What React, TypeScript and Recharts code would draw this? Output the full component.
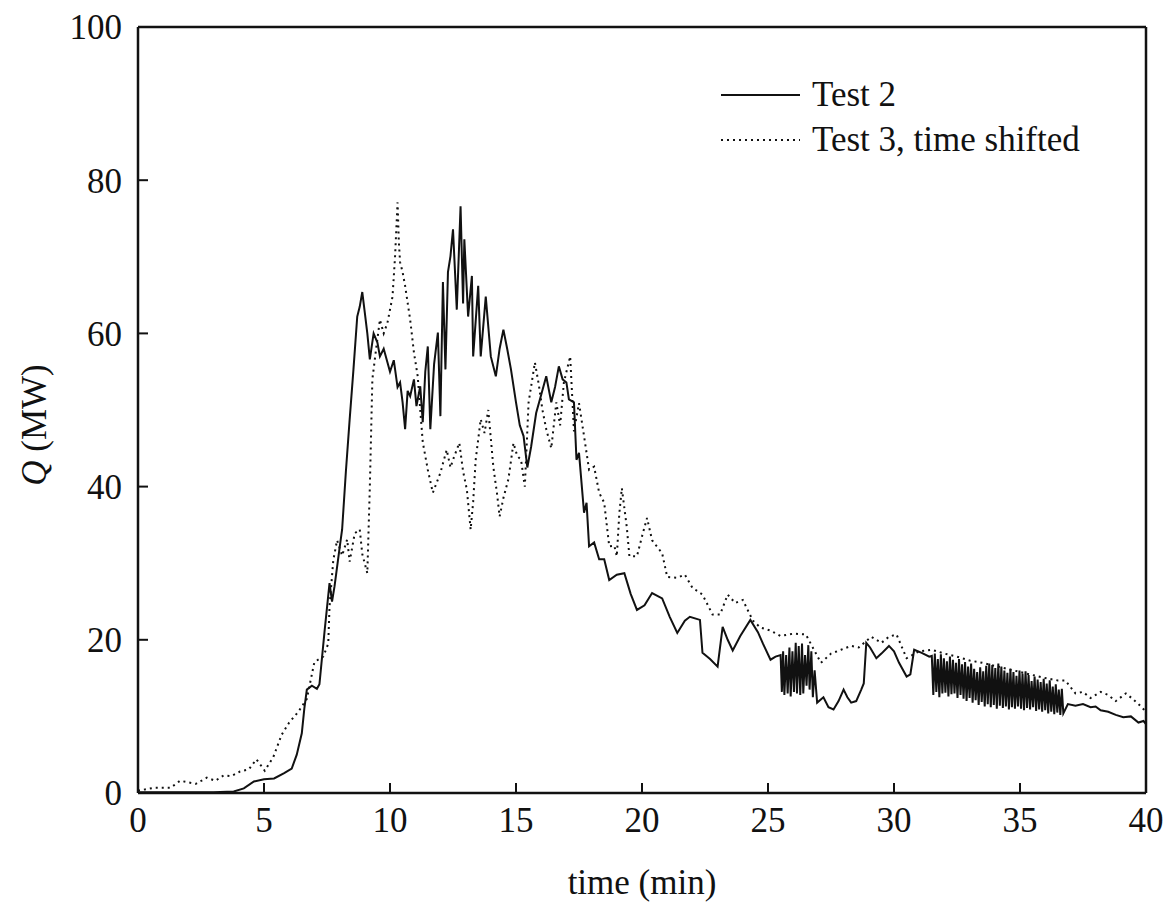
import React from "react";
import { LineChart, Line, XAxis, YAxis, ReferenceLine } from "recharts";

// heat release rate, Q in MW vs time in min
const TEST2: [number, number][] = [
  [0, 0.1], [1, 0.1], [2, 0.1], [3, 0.1], [3.8, 0.2], [4.2, 0.6], [4.6, 1.5], [5, 1.8], [5.4, 1.9],
  [5.8, 2.6], [6.1, 3.2], [6.3, 5], [6.5, 7.8], [6.6, 11], [6.7, 13.5], [6.9, 14], [7.1, 13.6],
  [7.2, 14.2], [7.4, 21], [7.6, 27.4], [7.7, 25], [7.8, 27], [8.0, 32], [8.1, 34.4], [8.25, 42],
  [8.4, 48.8], [8.55, 55.3], [8.7, 62.2], [8.8, 63.5], [8.9, 65.4], [9.0, 62.7], [9.1, 60],
  [9.2, 56.6], [9.35, 60], [9.5, 58.8], [9.6, 57], [9.75, 58], [9.9, 56.2], [10.0, 55],
  [10.15, 56.5], [10.3, 53], [10.4, 53.6], [10.5, 51], [10.6, 47.5], [10.7, 52.5], [10.8, 51.8],
  [10.95, 54], [11.05, 50.5], [11.2, 53.1], [11.3, 48.4], [11.4, 55], [11.5, 58.3], [11.6, 47.5],
  [11.75, 56], [11.9, 60.1], [12.0, 49.2], [12.1, 66.7], [12.2, 55.3], [12.3, 68], [12.4, 70.1],
  [12.5, 73.6], [12.65, 63.1], [12.8, 76.6], [12.9, 63.9], [12.95, 72.3], [13.1, 62.2],
  [13.25, 67.5], [13.3, 57], [13.5, 66.2], [13.6, 57], [13.8, 64.8], [14.0, 57], [14.2, 54.4],
  [14.35, 58], [14.5, 60.5], [14.65, 58], [14.8, 55.3], [15.0, 51], [15.15, 48], [15.3, 46.6],
  [15.45, 42.5], [15.6, 45.2], [15.8, 49.6], [16.0, 52], [16.2, 54.4], [16.4, 51], [16.55, 53],
  [16.7, 55.7], [16.85, 54], [17.0, 53.6], [17.1, 51.4], [17.3, 51], [17.4, 43.5], [17.5, 44.4],
  [17.7, 36.6], [17.8, 37.9], [17.9, 32.2], [18.1, 32.7], [18.3, 30.5], [18.5, 30.5], [18.7, 27.8],
  [19.0, 28.5], [19.3, 28.7], [19.55, 26], [19.8, 23.9], [20.1, 24.5], [20.4, 26.1], [20.8, 25.4],
  [21.1, 23], [21.4, 20.9], [21.7, 22.5], [21.9, 23], [22.3, 22.6], [22.4, 18.3], [22.7, 17.5],
  [23.0, 16.5], [23.2, 21.7], [23.4, 20], [23.6, 18.6], [23.9, 20.5], [24.3, 22.6], [24.6, 21],
  [24.8, 19.5], [25.1, 17.4], [25.3, 17.8], [25.5, 18],
  [25.55, 13.2], [25.6, 18.5], [25.65, 12.8], [25.72, 18], [25.78, 13], [25.85, 19], [25.9, 12.6],
  [25.97, 18.5], [26.03, 13.2], [26.1, 19.6], [26.15, 13], [26.22, 19.2], [26.28, 12.8],
  [26.35, 19.5], [26.4, 13], [26.47, 18], [26.53, 14], [26.6, 19.3], [26.65, 13.5], [26.72, 18.5],
  [26.78, 12.5], [26.85, 16], [26.95, 11.8], [27.2, 12.5], [27.4, 11.2], [27.6, 10.9], [27.8, 12],
  [28.0, 13.5], [28.15, 12.5], [28.3, 11.8], [28.5, 12], [28.7, 13.5], [28.8, 14.3], [28.9, 19.6],
  [29.05, 19], [29.3, 17.6], [29.5, 18.2], [29.8, 19.2], [30.0, 18.5], [30.2, 17], [30.5, 15.2],
  [30.65, 15.5], [30.8, 18.7], [31.1, 18.3], [31.4, 17.8],
  [31.5, 17.9], [31.56, 12.8], [31.62, 18.2], [31.68, 13.2], [31.74, 17.5], [31.8, 12.5],
  [31.86, 18.1], [31.92, 13.0], [31.98, 17.6], [32.04, 13.1], [32.1, 17.2], [32.16, 12.6],
  [32.22, 17.8], [32.28, 12.9], [32.34, 17.4], [32.4, 13.0], [32.46, 17.0], [32.52, 12.4],
  [32.58, 17.5], [32.64, 12.8], [32.7, 16.8], [32.76, 12.3], [32.82, 17.1], [32.88, 12.0],
  [32.94, 16.5], [33.0, 12.4], [33.06, 16.9], [33.12, 11.8], [33.18, 16.2], [33.24, 12.1],
  [33.3, 15.8], [33.36, 11.5], [33.42, 16.4], [33.48, 11.9], [33.54, 15.9], [33.6, 11.3],
  [33.66, 16.6], [33.72, 11.6], [33.78, 16.9], [33.84, 11.2], [33.9, 16.7], [33.96, 11.5],
  [34.02, 16.3], [34.08, 11.0], [34.14, 16.9], [34.2, 11.4], [34.26, 16.5], [34.32, 11.1],
  [34.38, 16.0], [34.44, 11.3], [34.5, 15.7], [34.56, 10.9], [34.62, 16.2], [34.68, 11.2],
  [34.74, 15.8], [34.8, 11.0], [34.86, 15.3], [34.92, 11.3], [34.98, 16.0], [35.04, 11.0],
  [35.1, 15.6], [35.16, 10.8], [35.22, 15.9], [35.28, 11.1], [35.34, 15.4], [35.4, 10.9],
  [35.46, 14.6], [35.52, 11.2], [35.58, 15.2], [35.64, 10.7], [35.7, 14.8], [35.76, 10.9],
  [35.82, 14.5], [35.88, 10.6], [35.94, 14.9], [36.0, 10.8], [36.06, 14.3], [36.12, 10.4],
  [36.18, 14.7], [36.24, 10.6], [36.3, 13.9], [36.36, 10.3], [36.42, 14.2], [36.48, 10.5],
  [36.54, 13.5], [36.6, 10.2], [36.66, 13.6], [36.72, 10.4],
  [36.9, 11.6], [37.2, 11.4], [37.5, 11.6], [37.8, 11.2], [38.0, 11.3], [38.2, 10.8], [38.5, 10.6],
  [38.8, 10.2], [39.1, 9.9], [39.4, 10], [39.7, 9.2], [39.9, 9.4], [40, 9],
];

const TEST3: [number, number][] = [
  [0, 0.3], [0.67, 0.7], [1.3, 0.7], [1.67, 1.6], [2.3, 1.2], [2.73, 2], [3.07, 1.6], [3.4, 2.3],
  [3.7, 2.2], [4.05, 2.8], [4.4, 3.1], [4.7, 4.4], [5.03, 2.9], [5.37, 4.7], [5.7, 7.6], [6.0, 9.2],
  [6.36, 10.6], [6.7, 12.3], [7.0, 17.1], [7.35, 17.8], [7.55, 19.5], [7.6, 24.3], [7.75, 30.4],
  [7.9, 33], [8.1, 31], [8.3, 33.1], [8.4, 30.2], [8.6, 33.9], [8.8, 34.4], [8.9, 31.2], [9.1, 28.7],
  [9.2, 40], [9.3, 54], [9.45, 58], [9.6, 61.8], [9.75, 60], [9.9, 61.4], [10.1, 64.8], [10.2, 70],
  [10.3, 77.1], [10.35, 72], [10.4, 69.3], [10.5, 68], [10.6, 66.2], [10.8, 61.8], [10.95, 57.5],
  [11.1, 54.4], [11.2, 50], [11.3, 45.8], [11.5, 42.2], [11.7, 39.2], [11.85, 40.5], [12.0, 41.8],
  [12.25, 44.8], [12.4, 42.5], [12.5, 43.5], [12.75, 45.7], [12.9, 42], [13.05, 39.6], [13.2, 34.4],
  [13.3, 38], [13.4, 43.5], [13.6, 48.8], [13.75, 47], [13.9, 50], [14.1, 42.6], [14.25, 39],
  [14.35, 36.1], [14.5, 38.5], [14.7, 41], [14.9, 45.7], [15.05, 44], [15.2, 43.5], [15.35, 40],
  [15.5, 51], [15.75, 56.2], [15.9, 53.4], [16.05, 50], [16.2, 47.5], [16.4, 45], [16.6, 51],
  [16.75, 48], [16.9, 53.6], [17.15, 57], [17.3, 47.2], [17.5, 50.9], [17.7, 46.6], [17.9, 42.2],
  [18.1, 42.6], [18.3, 39.2], [18.5, 37.9], [18.7, 32.2], [18.9, 32.3], [19.0, 30.9], [19.1, 36.5],
  [19.2, 39.8], [19.4, 34.6], [19.5, 30.9], [19.8, 30.9], [20.0, 33.5], [20.2, 35.9], [20.4, 33],
  [20.8, 31.3], [21.0, 28.2], [21.4, 28.1], [21.7, 28.5], [22.0, 26.8], [22.4, 25.9], [22.8, 23.3],
  [23.1, 23.3], [23.4, 25.9], [23.7, 24.8], [24.0, 25.2], [24.4, 22.5], [24.7, 21.6], [25.1, 21.2],
  [25.5, 20.5], [26.0, 20.8], [26.5, 20.7], [27.1, 17], [27.5, 18.2], [27.9, 18.7], [28.3, 19.2],
  [28.6, 19], [29.1, 20.4], [29.5, 19.6], [29.8, 20.4], [30.1, 20.7], [30.5, 17.6], [31.0, 18.5],
  [31.5, 18.7], [32, 18.2], [32.5, 17.8], [33, 17.3], [33.5, 17], [34, 16.6], [34.5, 16.2],
  [35, 15.8], [35.5, 15.4], [36, 15], [36.5, 14.7], [36.8, 14.7], [37.2, 13], [37.5, 13.2],
  [37.8, 12.4], [38.2, 13.2], [38.5, 12.8], [38.8, 12], [39.2, 13], [39.5, 12.2], [39.8, 11.3],
  [40, 10.6],
];

const X_TICKS = [0, 5, 10, 15, 20, 25, 30, 35, 40];
const Y_TICKS = [0, 20, 40, 60, 80, 100];

const FONT = '"Liberation Serif", "Times New Roman", serif';
const INK = "#111";

const test2Data = TEST2.map(([t, q]) => ({ t, q }));
const test3Data = TEST3.map(([t, q]) => ({ t, q }));

function QLegend() {
  const row = (dash: string | undefined, label: string) => (
    <div style={{ display: "flex", alignItems: "center", height: 45 }}>
      <svg width={92} height={10} style={{ marginRight: 6 }}>
        <line x1={7} y1={5} x2={86} y2={5} stroke={INK} strokeWidth={dash ? 2 : 2.2} strokeDasharray={dash} />
      </svg>
      <span style={{ fontFamily: FONT, fontSize: 35, color: INK, lineHeight: "45px" }}>{label}</span>
    </div>
  );
  return (
    <div style={{ position: "absolute", left: 714, top: 72 }}>
      {row(undefined, "Test 2")}
      {row("2 4", "Test 3, time shifted")}
    </div>
  );
}

function YTitle() {
  return (
    <text x={34} y={425} transform="rotate(-90 34 425)" textAnchor="middle" dominantBaseline="central"
      fontFamily={FONT} fontSize={35} fill={INK}>
      <tspan fontStyle="italic">Q</tspan> (MW)
    </text>
  );
}

export default function App() {
  return (
    <div style={{ position: "absolute", left: 0, top: 0, width: 1171, height: 910, background: "#fff" }}>
      <LineChart width={1171} height={910} margin={{ top: 27, right: 25, left: 0, bottom: 0 }}>
        <XAxis
          dataKey="t"
          type="number"
          domain={[0, 40]}
          ticks={X_TICKS}
          height={117}
          allowDuplicatedCategory={false}
          axisLine={{ stroke: INK, strokeWidth: 2.5 }}
          tickLine={{ stroke: INK, strokeWidth: 2 }}
          tickSize={-10}
          tickMargin={24}
          tick={{ fill: INK, fontFamily: FONT, fontSize: 35 }}
          label={{ value: "time (min)", position: "insideBottom", offset: 16, fill: INK, fontFamily: FONT, fontSize: 35 }}
        />
        <YAxis
          type="number"
          domain={[0, 100]}
          ticks={Y_TICKS}
          width={138}
          axisLine={{ stroke: INK, strokeWidth: 2.5 }}
          tickLine={{ stroke: INK, strokeWidth: 2 }}
          tickSize={-10}
          tickMargin={26}
          tick={{ fill: INK, fontFamily: FONT, fontSize: 35 }}
          label={<YTitle />}
        />
        <ReferenceLine y={100} stroke={INK} strokeWidth={2.5} />
        <ReferenceLine x={40} stroke={INK} strokeWidth={2.5} />
        <Line data={test3Data} dataKey="q" type="linear" stroke={INK} strokeWidth={2}
          strokeDasharray="2 4" dot={false} isAnimationActive={false} name="Test 3, time shifted" />
        <Line data={test2Data} dataKey="q" type="linear" stroke={INK} strokeWidth={2}
          dot={false} isAnimationActive={false} name="Test 2" />
      </LineChart>
      <QLegend />
    </div>
  );
}
